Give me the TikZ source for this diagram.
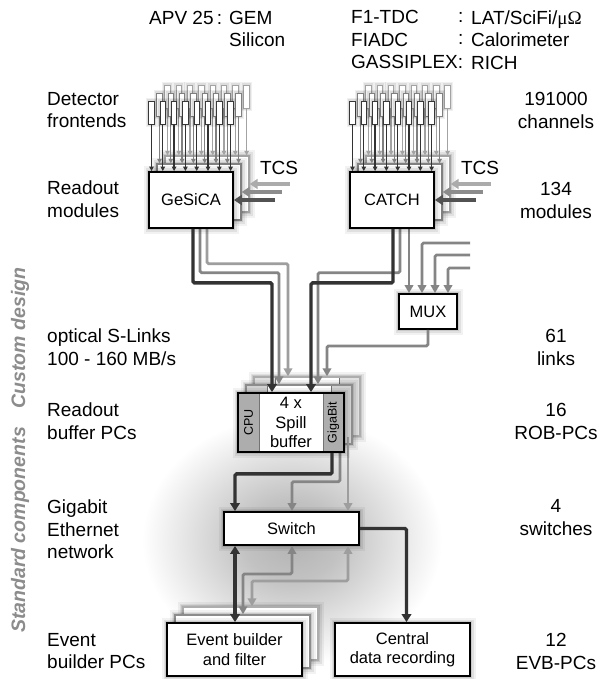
\documentclass[tikz,border=0pt]{standalone}
\usepackage{fontspec}
\setmainfont{Liberation Sans}
\newfontfamily\serfont{Liberation Serif}
\usetikzlibrary{arrows.meta,calc}
\newcommand\lblfont{\fontsize{19}{22.5}\selectfont}
\newcommand\bxfont{\fontsize{16.5}{19.5}\selectfont}
\newcommand\smfont{\fontsize{12.5}{14}\selectfont}
\newcommand\rotfont{\fontsize{19.5}{22}\selectfont\bfseries\itshape}
\colorlet{dk}{black!80}
\colorlet{md}{black!48}
\colorlet{lt}{black!38}
\pgfdeclareradialshading{haze}{\pgfpoint{0bp}{0bp}}{color(0bp)=(black!30); color(8bp)=(black!24); color(25bp)=(white); color(50bp)=(white)}
\begin{document}
\begin{tikzpicture}[x=1pt,y=-1pt,
  lbl/.style={inner sep=0pt, font=\lblfont, execute at begin node=\strut, execute at end node=\strut},
  lleft/.style={lbl, anchor=west, align=left},
  lright/.style={lbl, align=center},
  rot/.style={inner sep=0pt, font=\rotfont, text=black!45, rotate=90},
  glow/.style={preaction={draw=black,draw opacity=0.05,line width=11pt},
               preaction={draw=black,draw opacity=0.07,line width=7pt},
               preaction={draw=black,draw opacity=0.10,line width=4pt}},
  feglow/.style={preaction={draw=black,draw opacity=0.06,line width=6pt},
                 preaction={draw=black,draw opacity=0.08,line width=3.5pt}},
  frontbox/.style={draw=black, line width=1.8pt, fill=white, inner sep=0pt, align=center, font=\bxfont, glow},
  stackbox/.style={draw=#1, line width=1.4pt, fill=white, inner sep=0pt, glow},
  fe/.style={draw=#1, fill=white, inner sep=0pt, minimum width=5.5pt, minimum height=23pt, line width=0.9pt, feglow},
  fearr/.style={line width=1.3pt, -{Triangle[length=4.5pt,width=4.5pt]}},
  dat/.style={line width=3.4pt, rounded corners=1.5pt, -{Triangle[length=8pt,width=9.5pt]}},
  datg/.style={line width=2.8pt, rounded corners=1.5pt, -{Triangle[length=8pt,width=8.5pt]}},
  datgb/.style={line width=2.8pt, rounded corners=1.5pt, {Triangle[length=8pt,width=8.5pt]}-{Triangle[length=8pt,width=8.5pt]}},
  datb/.style={line width=3.4pt, {Triangle[length=8pt,width=9.5pt]}-{Triangle[length=8pt,width=9.5pt]}},
  tcs/.style={line width=4.5pt, -{Triangle[length=8pt,width=10pt]}},
  spillp/.style={path picture={
      \fill[#1] (path picture bounding box.south west) rectangle ([xshift=21pt]path picture bounding box.north west);
      \fill[#1] (path picture bounding box.south east) rectangle ([xshift=-21pt]path picture bounding box.north east);
      \draw[line width=0.8pt, black!55] ([xshift=21pt]path picture bounding box.south west) -- ([xshift=21pt]path picture bounding box.north west);
      \draw[line width=0.8pt, black!55] ([xshift=-21pt]path picture bounding box.south east) -- ([xshift=-21pt]path picture bounding box.north east);}}
]
\useasboundingbox (0,0) rectangle (604,679);
\fill[white] (0,0) rectangle (604,679);
\shade[shading=haze] (292,540) ellipse [x radius=150pt, y radius=125pt];

% ---------- labels ----------
\node[lleft] (apv) at (149,20.5) {APV 25\,:};
\node[lleft] (gem) at (229,32) {GEM\\Silicon};
\node[lleft] (tdc) at (351,43) {F1-TDC\\FIADC\\GASSIPLEX:};
\node[lleft] (col) at (458,43) {:\\:\\\phantom{:}};
\node[lleft] (lat) at (471,43) {LAT/SciFi/{\serfont μΩ}\\Calorimeter\\RICH};

\node[lleft] (l1) at (47,113.5) {Detector\\frontends};
\node[lleft] (l2) at (47,202.5) {Readout\\modules};
\node[lleft] (l3) at (47,350.5) {optical S-Links\\100 - 160 MB/s};
\node[lleft] (l4) at (47,424.5) {Readout\\buffer PCs};
\node[lleft] (l5) at (47,532.5) {Gigabit\\Ethernet\\network};
\node[lleft] (l6) at (47,654.5) {Event\\builder PCs};

\node[lright] (r1) at (556,113.5) {191000\\channels};
\node[lright] (r2) at (556,203.5) {134\\modules};
\node[lright] (r3) at (556,350.5) {61\\links};
\node[lright] (r4) at (556,424.5) {16\\ROB-PCs};
\node[lright] (r5) at (556,521) {4\\switches};
\node[lright] (r6) at (556,654.5) {12\\EVB-PCs};

\node[rot] (custom) at (20,338) {Custom design};
\node[rot] (standard) at (20,530) {Standard components};

\node[lbl] (tcsg) at (279,170.5) {TCS};
\node[lbl] (tcsc) at (480,170.5) {TCS};

% ---------- back and middle stacks of readout modules ----------
\foreach \m/\cx in {g/191,c/392}{
  \foreach \l/\fc in {2/black!36,1/black!50}{
    \node[stackbox=\fc, minimum width=84pt, minimum height=56pt] (box-\m-\l) at ({\cx+8*\l},{200-8*\l}) {};
    \foreach \i in {0,...,7}{
      \node[fe=\fc] (fe-\m-\l-\i) at ({\cx-39.5+8*\l+11.3*\i},{112.5-8*\l}) {};
      \draw[fearr, color=\fc] (fe-\m-\l-\i.south) -- (fe-\m-\l-\i.south |- box-\m-\l.north);
    }
  }
}

% ---------- back / middle boxes ----------
\node[stackbox=black!32, spillp=black!12, minimum width=106pt, minimum height=59pt] (spill2) at (307,406.5) {};
\node[stackbox=black!45, spillp=black!18, minimum width=106pt, minimum height=59pt] (spill1) at (299,414.5) {};
\node[stackbox=black!32, minimum width=135pt, minimum height=53pt] (eb2) at (250.5,633.5) {};
\node[stackbox=black!45, minimum width=135pt, minimum height=53pt] (eb1) at (242.5,641.5) {};

\node[frontbox, minimum width=58pt, minimum height=35pt] (mux) at (428,311.5) {MUX};
\node[frontbox, minimum width=135pt, minimum height=33pt] (sw) at (291.5,528.5) {Switch};

% TCS (back, middle)
\coordinate (tg2) at (290,184); \coordinate (tg1) at (282,192); \coordinate (tg0) at (275,200);
\coordinate (tc2) at (491,184); \coordinate (tc1) at (483,192); \coordinate (tc0) at (476,200);
\draw[tcs, color=black!33] (tg2) -- (tg2 -| box-g-2.east);
\draw[tcs, color=black!45] (tg1) -- (tg1 -| box-g-1.east);
\draw[tcs, color=black!33] (tc2) -- (tc2 -| box-c-2.east);
\draw[tcs, color=black!45] (tc1) -- (tc1 -| box-c-1.east);

% grey data links
\draw[datg, color=lt] (box-g-2.south) -- ++(0,51) -| ([xshift=-19pt]spill2.north);
\draw[datg, color=md] ([xshift=1pt]box-g-1.south) -- ++(0,52) -| ([xshift=-20pt]spill1.north);
\draw[datg, color=md] (box-c-1.south) -- ++(0,52) -| ([xshift=19pt]spill1.north);
\draw[datg, color=md] ([xshift=1pt]box-c-2.south) -- ([xshift=-19pt]mux.north);
\coordinate (mi1) at (470,243); \coordinate (mi2) at (470,255); \coordinate (mi3) at (470,268);
\draw[datg, color=md] (mi1) -| ([xshift=-6pt]mux.north);
\draw[datg, color=md] (mi2) -| ([xshift=7pt]mux.north);
\draw[datg, color=md] (mi3) -| ([xshift=20pt]mux.north);
\draw[datg, color=md] (mux.south) -- ++(0,16) -| ([xshift=20pt]spill2.north);
\draw[datg, color=lt] ([xshift=41pt]spill2.south) -- ([xshift=56.5pt]sw.north);
\draw[datg, color=md] ([xshift=41pt]spill1.south) -- ++(0,37) -| ([xshift=0.5pt]sw.north);
\draw[datgb, color=md] ([xshift=0.5pt]sw.south) -- ++(0,28) -| ([xshift=0.5pt]eb1.north);
\draw[datgb, color=lt] ([xshift=56.5pt]sw.south) -- ++(0,35) -| ([xshift=1.5pt]eb2.north);

% ---------- front layer ----------
\foreach \m/\cx/\nm in {g/191/GeSiCA,c/392/CATCH}{
  \node[frontbox, minimum width=84pt, minimum height=56pt] (box-\m-0) at (\cx,200) {\nm};
  \foreach \i in {0,...,7}{
    \node[fe=black!78] (fe-\m-0-\i) at ({\cx-39.5+11.3*\i},112.5) {};
    \draw[fearr, color=black!80] (fe-\m-0-\i.south) -- (fe-\m-0-\i.south |- box-\m-0.north);
  }
}
\draw[tcs, color=black!68] (tg0) -- (tg0 -| box-g-0.east);
\draw[tcs, color=black!68] (tc0) -- (tc0 -| box-c-0.east);

\node[frontbox, spillp=black!32, minimum width=106pt, minimum height=59pt] (spill0) at (291,422.5) {4 x\\Spill\\buffer};
\node[rotate=90, font=\smfont, inner sep=0pt] (cpu) at (248.5,422.5) {CPU};
\node[rotate=90, font=\smfont, inner sep=0pt] (gbit) at (333.5,422.5) {GigaBit};

\node[frontbox, minimum width=135pt, minimum height=53pt] (eb0) at (234.5,649.5) {Event builder\\and filter};
\node[frontbox, minimum width=135pt, minimum height=53pt] (central) at (402.5,649.5) {Central\\data recording};

\draw[dat, color=dk] ([xshift=2pt]box-g-0.south) -- ++(0,54) -| ([xshift=-19pt]spill0.north);
\draw[dat, color=dk] ([xshift=1pt]box-c-0.south) -- ++(0,54) -| ([xshift=20pt]spill0.north);
\draw[dat, color=dk] ([xshift=41pt]spill0.south) -- ++(0,21) -| ([xshift=-56.5pt]sw.north);
\draw[dat, color=dk] (sw.east) -| ([xshift=4pt]central.north);
\draw[datb, color=dk] ([xshift=-56.5pt]sw.south) -- ([xshift=0.5pt]eb0.north);
\end{tikzpicture}
\end{document}
